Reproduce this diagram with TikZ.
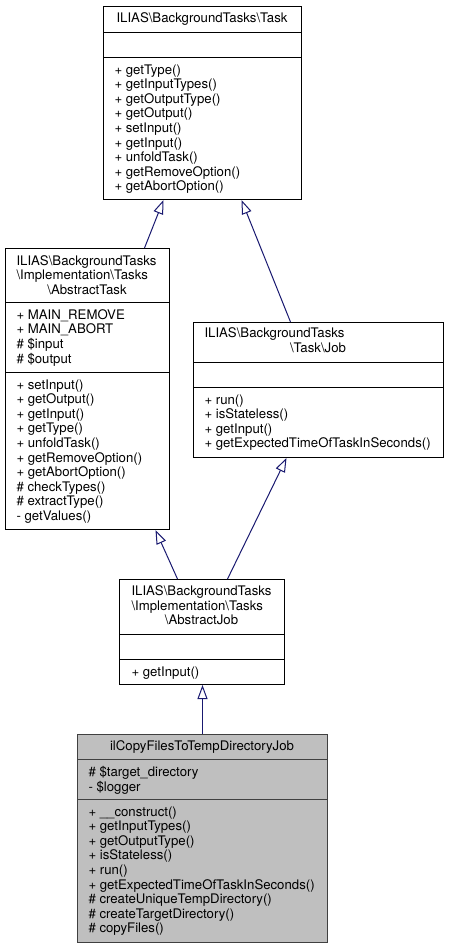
\documentclass[tikz,border=0pt]{standalone}
\usepackage{fontspec}
\setmainfont{TeX Gyre Heros}
\usetikzlibrary{arrows.meta}
\definecolor{edgeblue}{HTML}{191970}
\definecolor{boxgrey}{HTML}{BFBFBF}
\definecolor{boxline}{HTML}{404040}

\begin{document}
\begin{tikzpicture}[x=1pt, y=-1pt, line width=1pt,
  classbox/.style={draw, fill=white, anchor=north west, inner sep=0pt},
  members/.style={anchor=north west, align=left, inner sep=0pt, font=\fontsize{13.2}{14.6}\selectfont},
  title/.style={inner sep=0pt, font=\fontsize{13.2}{14.6}\selectfont},
  inherit/.style={draw=edgeblue, -{Triangle[open, length=14pt, width=10pt]}}]
\useasboundingbox (0,0) rectangle (448,948);

% ILIAS\BackgroundTasks\Task
\node[classbox, minimum width=198pt, minimum height=193pt] (task) at (103,6) {};
\draw (task.west |- 0,32) -- (task.east |- 0,32);
\draw (task.west |- 0,57) -- (task.east |- 0,57);
\node[title, anchor=base] (tasktitle) at (202,22) {ILIAS\textbackslash BackgroundTasks\textbackslash Task};
\node[members] (taskops) at (114,64) {+ getType()\\+ getInputTypes()\\+ getOutputType()\\+ getOutput()\\+ setInput()\\+ getInput()\\+ unfoldTask()\\+ getRemoveOption()\\+ getAbortOption()};

% AbstractTask
\node[classbox, minimum width=164pt, minimum height=281pt] (atask) at (5,248) {};
\draw (atask.west |- 0,302) -- (atask.east |- 0,302);
\draw (atask.west |- 0,372) -- (atask.east |- 0,372);
\node[title, anchor=base west] (atasktitlea) at (16,265) {ILIAS\textbackslash BackgroundTasks};
\node[title, anchor=base west] (atasktitleb) at (16,279.6) {\textbackslash Implementation\textbackslash Tasks};
\node[title, anchor=base] (atasktitlec) at (87,294.2) {\textbackslash AbstractTask};
\node[members] (ataskattr) at (16,309) {+ MAIN\_REMOVE\\+ MAIN\_ABORT\\\# \$input\\\# \$output};
\node[members] (ataskops) at (16,379) {+ setInput()\\+ getOutput()\\+ getInput()\\+ getType()\\+ unfoldTask()\\+ getRemoveOption()\\+ getAbortOption()\\\# checkTypes()\\\# extractType()\\- getValues()};

% Task\Job
\node[classbox, minimum width=250pt, minimum height=135pt] (job) at (193,322) {};
\draw (job.west |- 0,362) -- (job.east |- 0,362);
\draw (job.west |- 0,387) -- (job.east |- 0,387);
\node[title, anchor=base west] (jobtitlea) at (204,337.5) {ILIAS\textbackslash BackgroundTasks};
\node[title, anchor=base] (jobtitleb) at (318,352) {\textbackslash Task\textbackslash Job};
\node[members] (jobops) at (204,394) {+ run()\\+ isStateless()\\+ getInput()\\+ getExpectedTimeOfTaskInSeconds()};

% AbstractJob
\node[classbox, minimum width=165pt, minimum height=105pt] (ajob) at (119,579) {};
\draw (ajob.west |- 0,634) -- (ajob.east |- 0,634);
\draw (ajob.west |- 0,659) -- (ajob.east |- 0,659);
\node[title, anchor=base west] (ajobtitlea) at (131,595.5) {ILIAS\textbackslash BackgroundTasks};
\node[title, anchor=base west] (ajobtitleb) at (131,610.1) {\textbackslash Implementation\textbackslash Tasks};
\node[title, anchor=base] (ajobtitlec) at (201.5,624.7) {\textbackslash AbstractJob};
\node[members] (ajobops) at (131,666) {+ getInput()};

% ilCopyFilesToTempDirectoryJob
\node[classbox, fill=boxgrey, draw=boxline, minimum width=250pt, minimum height=208pt] (ilcopy) at (77,734) {};
\draw[boxline] (ilcopy.west |- 0,759) -- (ilcopy.east |- 0,759);
\draw[boxline] (ilcopy.west |- 0,799) -- (ilcopy.east |- 0,799);
\node[title, anchor=base] (ilcopytitle) at (202,750.5) {ilCopyFilesToTempDirectoryJob};
\node[members] (ilcopyattr) at (88,766) {\# \$target\_directory\\- \$logger};
\node[members] (ilcopyops) at (88,806) {+ \_\_construct()\\+ getInputTypes()\\+ getOutputType()\\+ isStateless()\\+ run()\\+ getExpectedTimeOfTaskInSeconds()\\\# createUniqueTempDirectory()\\\# createTargetDirectory()\\\# copyFiles()};

% Vererbung
\draw[inherit] ([xshift=57pt]atask.north) -- ([xshift=-39pt]task.south);
\draw[inherit] ([xshift=-28pt]job.north) -- ([xshift=39pt]task.south);
\draw[inherit] ([xshift=-24.5pt]ajob.north) -- ([xshift=68pt]atask.south);
\draw[inherit] ([xshift=25.5pt]ajob.north) -- ([xshift=-32pt]job.south);
\draw[inherit] (ilcopy.north) -- (ilcopy.north |- ajob.south);
\end{tikzpicture}
\end{document}
